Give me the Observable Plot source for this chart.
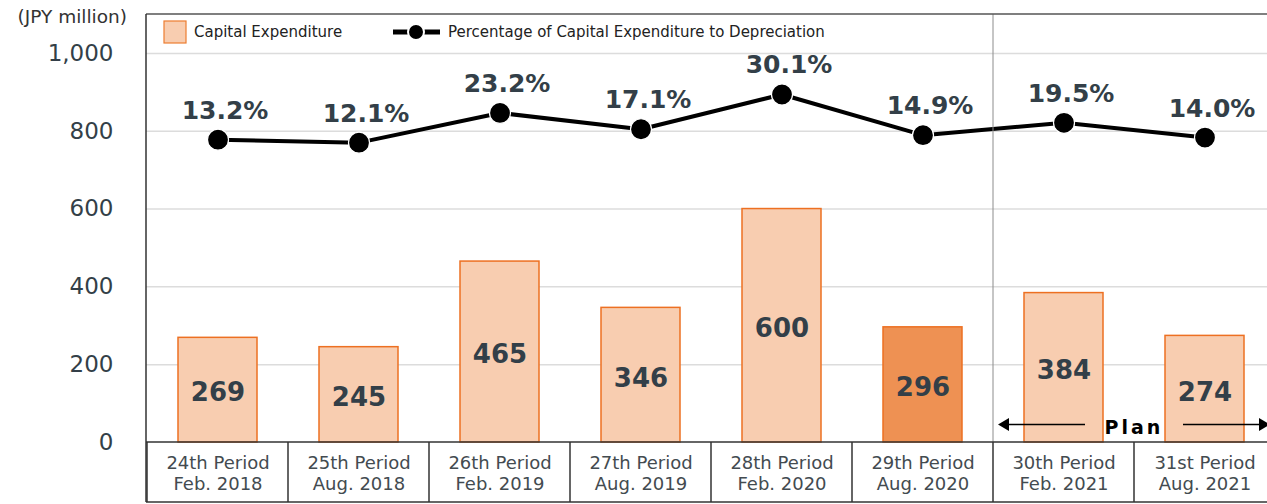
<!DOCTYPE html>
<html>
<head>
<meta charset="utf-8">
<script src="https://cdn.jsdelivr.net/npm/d3@7"></script>
<script src="https://cdn.jsdelivr.net/npm/@observablehq/plot@0.6"></script>
<style>
  html, body { margin: 0; padding: 0; background: #fff; overflow: hidden; }
  #chart { width: 1267px; height: 504px; }
</style>
</head>
<body>
<div id="chart"></div>
<script>
// ---- data ----
const periods = ["24th Period", "25th Period", "26th Period", "27th Period", "28th Period", "29th Period", "30th Period", "31st Period"];
const dates = ["Feb. 2018", "Aug. 2018", "Feb. 2019", "Aug. 2019", "Feb. 2020", "Aug. 2020", "Feb. 2021", "Aug. 2021"];
const capex = [269, 245, 465, 346, 600, 296, 384, 274];
const ratio = [13.2, 12.1, 23.2, 17.1, 30.1, 14.9, 19.5, 14.0];
const yTicks = [0, 200, 400, 600, 800, 1000];
const highlightIndex = 5;   // latest actual period
const planStart = 6;        // first plan period
const unitLabel = "(JPY million)";
const legendBar = "Capital Expenditure";
const legendLine = "Percentage of Capital Expenditure to Depreciation";
const planLabel = "Plan";

const rows = periods.map((p, i) => ({period: p, date: dates[i], capex: capex[i], ratio: ratio[i], i}));

// secondary (hidden) axis for the percentage line, mapped onto the primary scale
const yDomain = [0, 1100];
const y2 = d3.scaleLinear().domain([-100, 60]).range(yDomain);

const W = 1267, H = 504, mL = 146, mT = 14, mB = 62;
const textDark = "#333f48";

function decor(index, scales, values, dims) {
  const x = scales.x;
  const g = d3.create("svg:g");
  const L = dims.marginLeft, T = dims.marginTop, B = dims.height - dims.marginBottom;
  const Wd = dims.width, Hd = dims.height;
  const bw = x.bandwidth();
  const step = typeof x.step === "function" ? x.step() : x(periods[1]) - x(periods[0]);
  const edge = c => x(c) - (step - bw) / 2;
  const bottom = Hd - 2;

  // plan separator (thin gray)
  const sx = edge(periods[planStart]);
  g.append("line").attr("x1", sx).attr("x2", sx).attr("y1", T).attr("y2", B)
    .attr("stroke", "#8c8c8c").attr("stroke-width", 1);

  // table cell verticals
  const edges = periods.map(edge).concat([edge(periods[periods.length - 1]) + step]);
  edges.forEach(ex => {
    g.append("line").attr("x1", ex).attr("x2", ex).attr("y1", B).attr("y2", bottom)
      .attr("stroke", "#333").attr("stroke-width", 1.5);
  });
  // horizontal lines
  g.append("line").attr("x1", L).attr("x2", Wd).attr("y1", B).attr("y2", B)
    .attr("stroke", "#333").attr("stroke-width", 1.5);
  g.append("line").attr("x1", L).attr("x2", Wd).attr("y1", bottom).attr("y2", bottom)
    .attr("stroke", "#333").attr("stroke-width", 1.5);
  // frame top + left
  g.append("line").attr("x1", L).attr("x2", Wd).attr("y1", T).attr("y2", T)
    .attr("stroke", "#555").attr("stroke-width", 1.5);
  g.append("line").attr("x1", L).attr("x2", L).attr("y1", T).attr("y2", bottom)
    .attr("stroke", "#333").attr("stroke-width", 1.5);

  // unit label
  g.append("text").attr("x", L - 19).attr("y", T + 2).attr("text-anchor", "end")
    .attr("dominant-baseline", "central").attr("font-size", 18.5).attr("fill", "#333")
    .text(unitLabel);

  // legend
  const ly = T + 18;
  g.append("rect").attr("x", L + 18).attr("y", ly - 11).attr("width", 22).attr("height", 22)
    .attr("fill", "#f8cdb0").attr("stroke", "#ed7d31").attr("stroke-width", 1.2);
  g.append("text").attr("x", L + 48).attr("y", ly).attr("text-anchor", "start").attr("dominant-baseline", "central")
    .attr("font-size", 15).attr("fill", "#222").text(legendBar);
  const lx = L + 247;
  g.append("line").attr("x1", lx).attr("x2", lx + 47).attr("y1", ly).attr("y2", ly)
    .attr("stroke", "#000").attr("stroke-width", 5);
  g.append("circle").attr("cx", lx + 23).attr("cy", ly).attr("r", 8)
    .attr("fill", "#000").attr("stroke", "#fff").attr("stroke-width", 2);
  g.append("text").attr("x", lx + 55).attr("y", ly).attr("text-anchor", "start").attr("dominant-baseline", "central")
    .attr("font-size", 15).attr("fill", "#222").text(legendLine);

  // plan annotation
  const mid = edge(periods[planStart + 1]);
  const ay = B - 17.5;
  const rightEnd = edges[edges.length - 1] - 5;
  const arrow = (x1, x2) => {
    const dir = Math.sign(x2 - x1);
    g.append("line").attr("x1", x1).attr("x2", x2 - dir * 8).attr("y1", ay).attr("y2", ay)
      .attr("stroke", "#000").attr("stroke-width", 1.6);
    g.append("path").attr("d", `M${x2},${ay} L${x2 - dir * 11},${ay - 6.5} L${x2 - dir * 11},${ay + 6.5} Z`)
      .attr("fill", "#000");
  };
  arrow(mid - 49, sx + 5);
  arrow(mid + 49, rightEnd);
  g.append("text").attr("x", mid).attr("y", ay + 2).attr("text-anchor", "middle")
    .attr("dominant-baseline", "central").attr("font-size", 19).attr("font-weight", "bold")
    .attr("letter-spacing", 3).attr("fill", "#000").text(planLabel);

  return g.node();
}

const chart = Plot.plot({
  width: W,
  height: H,
  marginLeft: mL,
  marginRight: 0,
  marginTop: mT,
  marginBottom: mB,
  style: {fontFamily: "DejaVu Sans", background: "#fff"},
  x: {type: "band", domain: periods, range: [mL, mL + 141.2 * periods.length], paddingInner: 0.44, paddingOuter: 0.22, axis: null},
  y: {domain: yDomain, axis: null},
  marks: [
    Plot.ruleY(yTicks.filter(t => t > 0), {stroke: "#dcdcdc", strokeWidth: 1.5}),
    Plot.axisY({ticks: yTicks, tickSize: 0, tickPadding: 33, fontSize: 23, tickFormat: d3.format(","), fill: textDark, label: null}),
    Plot.barY(rows, {
      x: "period", y: "capex",
      fill: d => d.i === highlightIndex ? "#ee9153" : "#f8cdb0",
      stroke: "#ed7022", strokeWidth: 1.5
    }),
    Plot.text(rows, {
      x: "period", y: d => d.capex / 2, dy: 3,
      text: d => String(d.capex), fontSize: 26, fontWeight: "bold", fill: textDark
    }),
    Plot.line(rows, {x: "period", y: d => y2(d.ratio), stroke: "#000", strokeWidth: 4}),
    Plot.dot(rows, {x: "period", y: d => y2(d.ratio), r: 10.5, fill: "#000", stroke: "#fff", strokeWidth: 1.2}),
    Plot.text(rows, {
      x: "period", y: d => y2(d.ratio), dx: 7, dy: -29,
      text: d => d.ratio.toFixed(1) + "%", fontSize: 25, fontWeight: "bold", fill: textDark
    }),
    Plot.text(rows, {
      x: "period", frameAnchor: "bottom", dy: 30, lineAnchor: "middle", lineHeight: 1.17,
      text: d => d.period + "\n" + d.date, fontSize: 18, fill: "#434b50"
    }),
    decor
  ]
});
document.getElementById("chart").appendChild(chart);
</script>
</body>
</html>
